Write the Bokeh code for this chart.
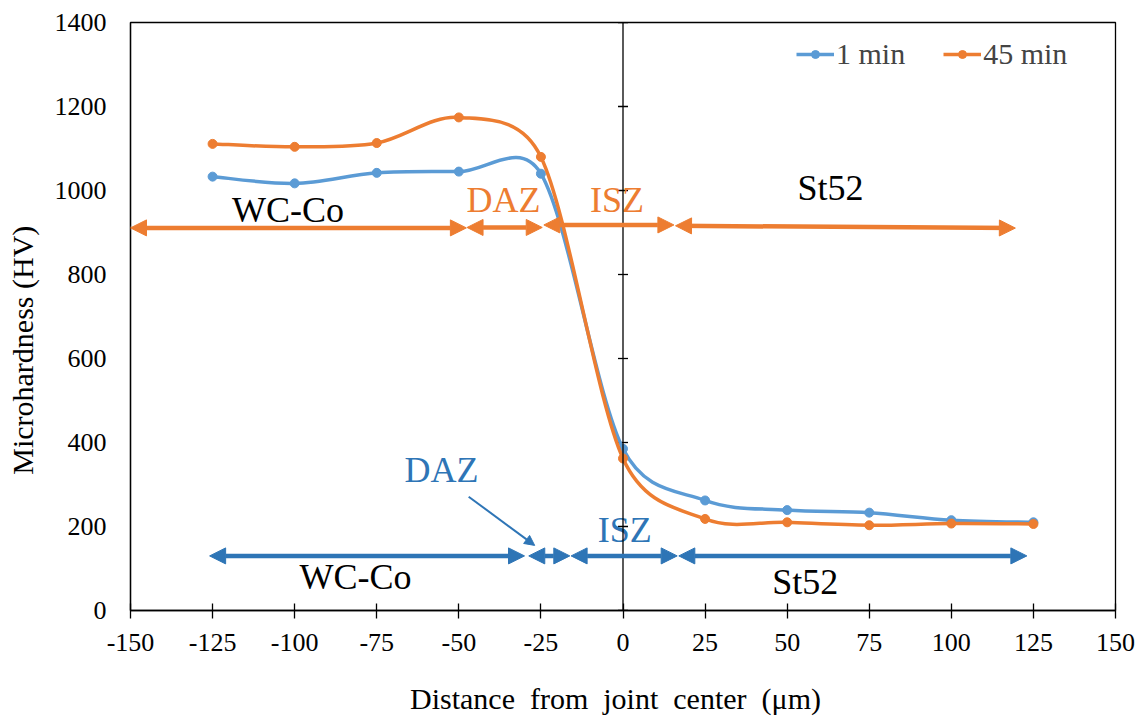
import numpy as np
from bokeh.plotting import figure
from bokeh.models import (Range1d, FixedTicker, Span, Arrow, NormalHead,
                          Legend, LegendItem, ColumnDataSource)
from bokeh.core.properties import value
from bokeh.embed import file_html
from bokeh.resources import INLINE

# ---------------- data ----------------
distance = [-125, -100, -75, -50, -25, 0, 25, 50, 75, 100, 125]
hv_1min = [1033, 1017, 1042, 1045, 1040, 385, 262, 239, 233, 215, 210]
hv_45min = [1111, 1104, 1113, 1174, 1080, 362, 218, 210, 203, 207, 206]

x_ticks = [-150, -125, -100, -75, -50, -25, 0, 25, 50, 75, 100, 125, 150]
y_ticks = [0, 200, 400, 600, 800, 1000, 1200, 1400]

# zone arrows (45 min, top)
z45_x0 = [-150, -47.5, -24.1, 16.0]
z45_x1 = [-47.7, -24.6, 15.5, 119.5]
z45_y0 = [911, 912, 918, 916]
z45_y1 = [911, 912, 918, 910.5]
# zone arrows (1 min, bottom)
z1_x0 = [-125.9, -28.7, -15.8, 17.0]
z1_x1 = [-30.0, -16.2, 16.5, 123.0]
z1_y = [130, 130, 130, 130]

# zone labels
lab45_text = ["WC-Co", "DAZ", "ISZ", "St52"]
lab45_x = [-102, -36.4, -1.8, 63.2]
lab45_y = [954, 978, 978, 1006]
lab1_text = ["WC-Co", "DAZ", "ISZ", "St52"]
lab1_x = [-81.5, -55.3, 0.5, 55.5]
lab1_y = [80, 335, 191, 69]
# DAZ pointer (1 min)
daz_ptr = [-47.0, 271, -26.9, 155]

BLUE = "#5B9BD5"
ORANGE = "#ED7D31"
DBLUE = "#2E75B6"
FONT = "Liberation Serif"

lab45_col = ["black", ORANGE, ORANGE, "black"]
lab1_col = ["black", DBLUE, DBLUE, "black"]

W, H = 1138, 717
FRAME_L, FRAME_T, FRAME_W, FRAME_H = 130, 22, 985, 590
X0, X1, Y0, Y1 = -150, 150, 0, 1400
SX = FRAME_W / (X1 - X0)
SY = FRAME_H / (Y1 - Y0)


def smooth_segments(xs, ys, k=1.0 / 6.0):
    """Excel-like smoothed line: cubic Bezier control points from neighbours,
    with tangent length limited to half the segment length (screen space)."""
    xs = np.asarray(xs, float)
    ys = np.asarray(ys, float)
    n = len(xs)

    def dist(i, j):
        return np.hypot((xs[j] - xs[i]) * SX, (ys[j] - ys[i]) * SY)

    out = dict(x0=[], y0=[], x1=[], y1=[], cx0=[], cy0=[], cx1=[], cy1=[])
    for i in range(n - 1):
        im = max(i - 1, 0)
        ip2 = min(i + 2, n - 1)
        d12 = dist(i, i + 1)
        d02 = dist(im, i + 1)
        d13 = dist(i, ip2)
        f0 = k if d02 * k <= d12 / 2 else d12 / (2 * d02)
        f1 = k if d13 * k <= d12 / 2 else d12 / (2 * d13)
        out["x0"].append(xs[i]); out["y0"].append(ys[i])
        out["x1"].append(xs[i + 1]); out["y1"].append(ys[i + 1])
        out["cx0"].append(xs[i] + (xs[i + 1] - xs[im]) * f0)
        out["cy0"].append(ys[i] + (ys[i + 1] - ys[im]) * f0)
        out["cx1"].append(xs[i + 1] - (xs[ip2] - xs[i]) * f1)
        out["cy1"].append(ys[i + 1] - (ys[ip2] - ys[i]) * f1)
    return ColumnDataSource(out)


p = figure(width=W, height=H, output_backend="svg", toolbar_location=None,
           x_range=Range1d(X0, X1), y_range=Range1d(Y0, Y1),
           min_border_left=FRAME_L, min_border_top=FRAME_T,
           min_border_right=W - FRAME_L - FRAME_W,
           min_border_bottom=H - FRAME_T - FRAME_H)
p.xgrid.visible = False
p.ygrid.visible = False
p.outline_line_color = "black"
p.outline_line_width = 1.3
p.background_fill_color = "white"
p.border_fill_color = "white"

# axes
p.xaxis.ticker = FixedTicker(ticks=x_ticks)
p.yaxis.ticker = FixedTicker(ticks=y_ticks)
p.xaxis.major_label_overrides = {t: str(t) for t in x_ticks}
for ax in (p.xaxis, p.yaxis):
    ax.axis_line_color = "black"
    ax.axis_line_width = 1.3
    ax.major_label_text_font = FONT
    ax.major_label_text_font_size = "26px"
    ax.major_label_text_color = "black"
    ax.axis_label_text_font = FONT
    ax.axis_label_text_font_size = "30px"
    ax.axis_label_text_font_style = "normal"
    ax.axis_label_text_color = "black"
    ax.minor_tick_line_color = None
    ax.major_tick_line_color = "black"
    ax.major_tick_line_width = 1.3
p.xaxis.major_tick_in = 7
p.xaxis.major_tick_out = 8
p.xaxis.major_label_standoff = 15
p.xaxis.axis_label = "Distance\u2002from\u2002joint\u2002center\u2002(\u03bcm)" + "\u00a0" * 2
p.xaxis.axis_label_standoff = 28
p.yaxis.major_tick_in = 0
p.yaxis.major_tick_out = 0
p.yaxis.major_label_standoff = 24
p.yaxis.axis_label = "Microhardness (HV)" + "\u00a0" * 9
p.yaxis.axis_label_standoff = 13

# center vertical axis line at x = 0 with cross ticks
p.add_layout(Span(location=0, dimension="height", line_color="black", line_width=1.3))
p.scatter(x=[0] * len(y_ticks), y=y_ticks, marker="dash", size=10,
          line_color="black", line_width=1.3)

# zone arrows
for x0, x1, y0, y1 in zip(z45_x0, z45_x1, z45_y0, z45_y1):
    p.add_layout(Arrow(x_start=x0, y_start=y0, x_end=x1, y_end=y1,
                       line_color=ORANGE, line_width=4.5,
                       start=NormalHead(size=16, fill_color=ORANGE, line_color=ORANGE, line_width=1),
                       end=NormalHead(size=16, fill_color=ORANGE, line_color=ORANGE, line_width=1)))
for x0, x1, y in zip(z1_x0, z1_x1, z1_y):
    p.add_layout(Arrow(x_start=x0, y_start=y, x_end=x1, y_end=y,
                       line_color=DBLUE, line_width=4.5,
                       start=NormalHead(size=16, fill_color=DBLUE, line_color=DBLUE, line_width=1),
                       end=NormalHead(size=16, fill_color=DBLUE, line_color=DBLUE, line_width=1)))
p.add_layout(Arrow(x_start=daz_ptr[0], y_start=daz_ptr[1], x_end=daz_ptr[2], y_end=daz_ptr[3],
                   line_color=DBLUE, line_width=2,
                   end=NormalHead(size=10, fill_color=DBLUE, line_color=DBLUE, line_width=1)))

# series
b1 = p.bezier(x0="x0", y0="y0", x1="x1", y1="y1", cx0="cx0", cy0="cy0", cx1="cx1", cy1="cy1",
              source=smooth_segments(distance, hv_1min), line_color=BLUE, line_width=3.5)
s1 = p.scatter(distance, hv_1min, size=9, fill_color=BLUE, line_color=BLUE)
b2 = p.bezier(x0="x0", y0="y0", x1="x1", y1="y1", cx0="cx0", cy0="cy0", cx1="cx1", cy1="cy1",
              source=smooth_segments(distance, hv_45min), line_color=ORANGE, line_width=3.5)
s2 = p.scatter(distance, hv_45min, size=9, fill_color=ORANGE, line_color=ORANGE)

# labels
p.text(x=lab45_x, y=lab45_y, text=lab45_text, text_color=lab45_col,
       text_font=value(FONT), text_font_size="36px", text_align="center",
       text_baseline="middle")
p.text(x=lab1_x, y=lab1_y, text=lab1_text, text_color=lab1_col,
       text_font=value(FONT), text_font_size="36px", text_align="center",
       text_baseline="middle")

legend = Legend(items=[LegendItem(label="1 min", renderers=[b1, s1]),
                       LegendItem(label="45 min", renderers=[b2, s2])],
                orientation="horizontal", location=(666, 539),
                label_text_font=FONT, label_text_font_size="30px",
                glyph_width=38, glyph_height=20, label_standoff=2, spacing=38,
                padding=0, margin=0, border_line_color=None,
                background_fill_alpha=0)
p.add_layout(legend)

open("out.html", "w").write(file_html(p, INLINE))
